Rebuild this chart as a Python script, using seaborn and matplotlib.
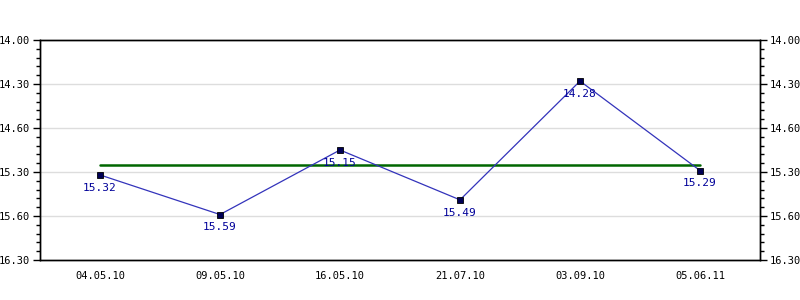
import matplotlib
matplotlib.use("Agg")
import matplotlib.pyplot as plt
from matplotlib.ticker import AutoMinorLocator
import seaborn as sns
import pandas as pd

dates = ["04.05.10", "09.05.10", "16.05.10", "21.07.10", "03.09.10", "05.06.11"]
times = [15.32, 15.59, 15.15, 15.49, 14.28, 15.29]   # minutes.seconds
tick_labels = ["14.00", "14.30", "14.60", "15.30", "15.60", "16.30"]
tick_seconds = [840, 870, 900, 930, 960, 990]

def to_sec(v):
    m = int(v)
    s = round((v - m) * 100)
    return m * 60 + s

secs = [to_sec(v) for v in times]
mean_sec = sum(secs) / len(secs)

df = pd.DataFrame({"date": dates, "sec": secs, "x": range(len(dates))})

sns.set_style("white")
plt.rcParams["font.family"] = ["DejaVu Sans Mono"]

fig = plt.figure(figsize=(8, 3), dpi=100)
ax = fig.add_axes([0.05, 0.1333, 0.9, 0.7334])

for t in tick_seconds[1:-1]:
    ax.axhline(t, color="#dddddd", lw=1, zorder=0)

sns.lineplot(data=df, x="x", y="sec", ax=ax, color="#3333bb", lw=0.9,
             marker="s", markersize=4.5, markerfacecolor="#000055",
             markeredgecolor="#000000", markeredgewidth=0.6, zorder=3)
ax.plot([df["x"].iloc[0], df["x"].iloc[-1]], [mean_sec, mean_sec],
        color="#006600", lw=1.8, zorder=2)

for x, s, v in zip(df["x"], secs, times):
    ax.annotate(f"{v:.2f}", (x, s), xytext=(0, -5.5), textcoords="offset points",
                ha="center", va="top", fontsize=8, color="#000099", zorder=4)

ax.set_xlim(-0.5, len(dates) - 0.5)
ax.set_ylim(tick_seconds[-1], tick_seconds[0])
ax.set_xticks(list(df["x"]))
ax.set_xticklabels(dates)
ax.set_yticks(tick_seconds)
ax.set_yticklabels(tick_labels)
ax.yaxis.set_minor_locator(AutoMinorLocator(5))
ax.set_xlabel("")
ax.set_ylabel("")

ax2 = ax.twinx()
ax2.set_ylim(ax.get_ylim())
ax2.set_yticks(tick_seconds)
ax2.set_yticklabels(tick_labels)
ax2.yaxis.set_minor_locator(AutoMinorLocator(5))

for a in (ax, ax2):
    for sp in a.spines.values():
        sp.set_color("black")
        sp.set_linewidth(1)
    a.tick_params(axis="both", which="major", direction="out", length=5,
                  width=1, color="black", labelsize=7.5, labelcolor="black", pad=2)
    a.tick_params(axis="y", which="minor", direction="out", length=3,
                  width=1, color="black")
ax.tick_params(axis="x", pad=3)

fig.savefig("out.png", dpi=100, facecolor="white")
